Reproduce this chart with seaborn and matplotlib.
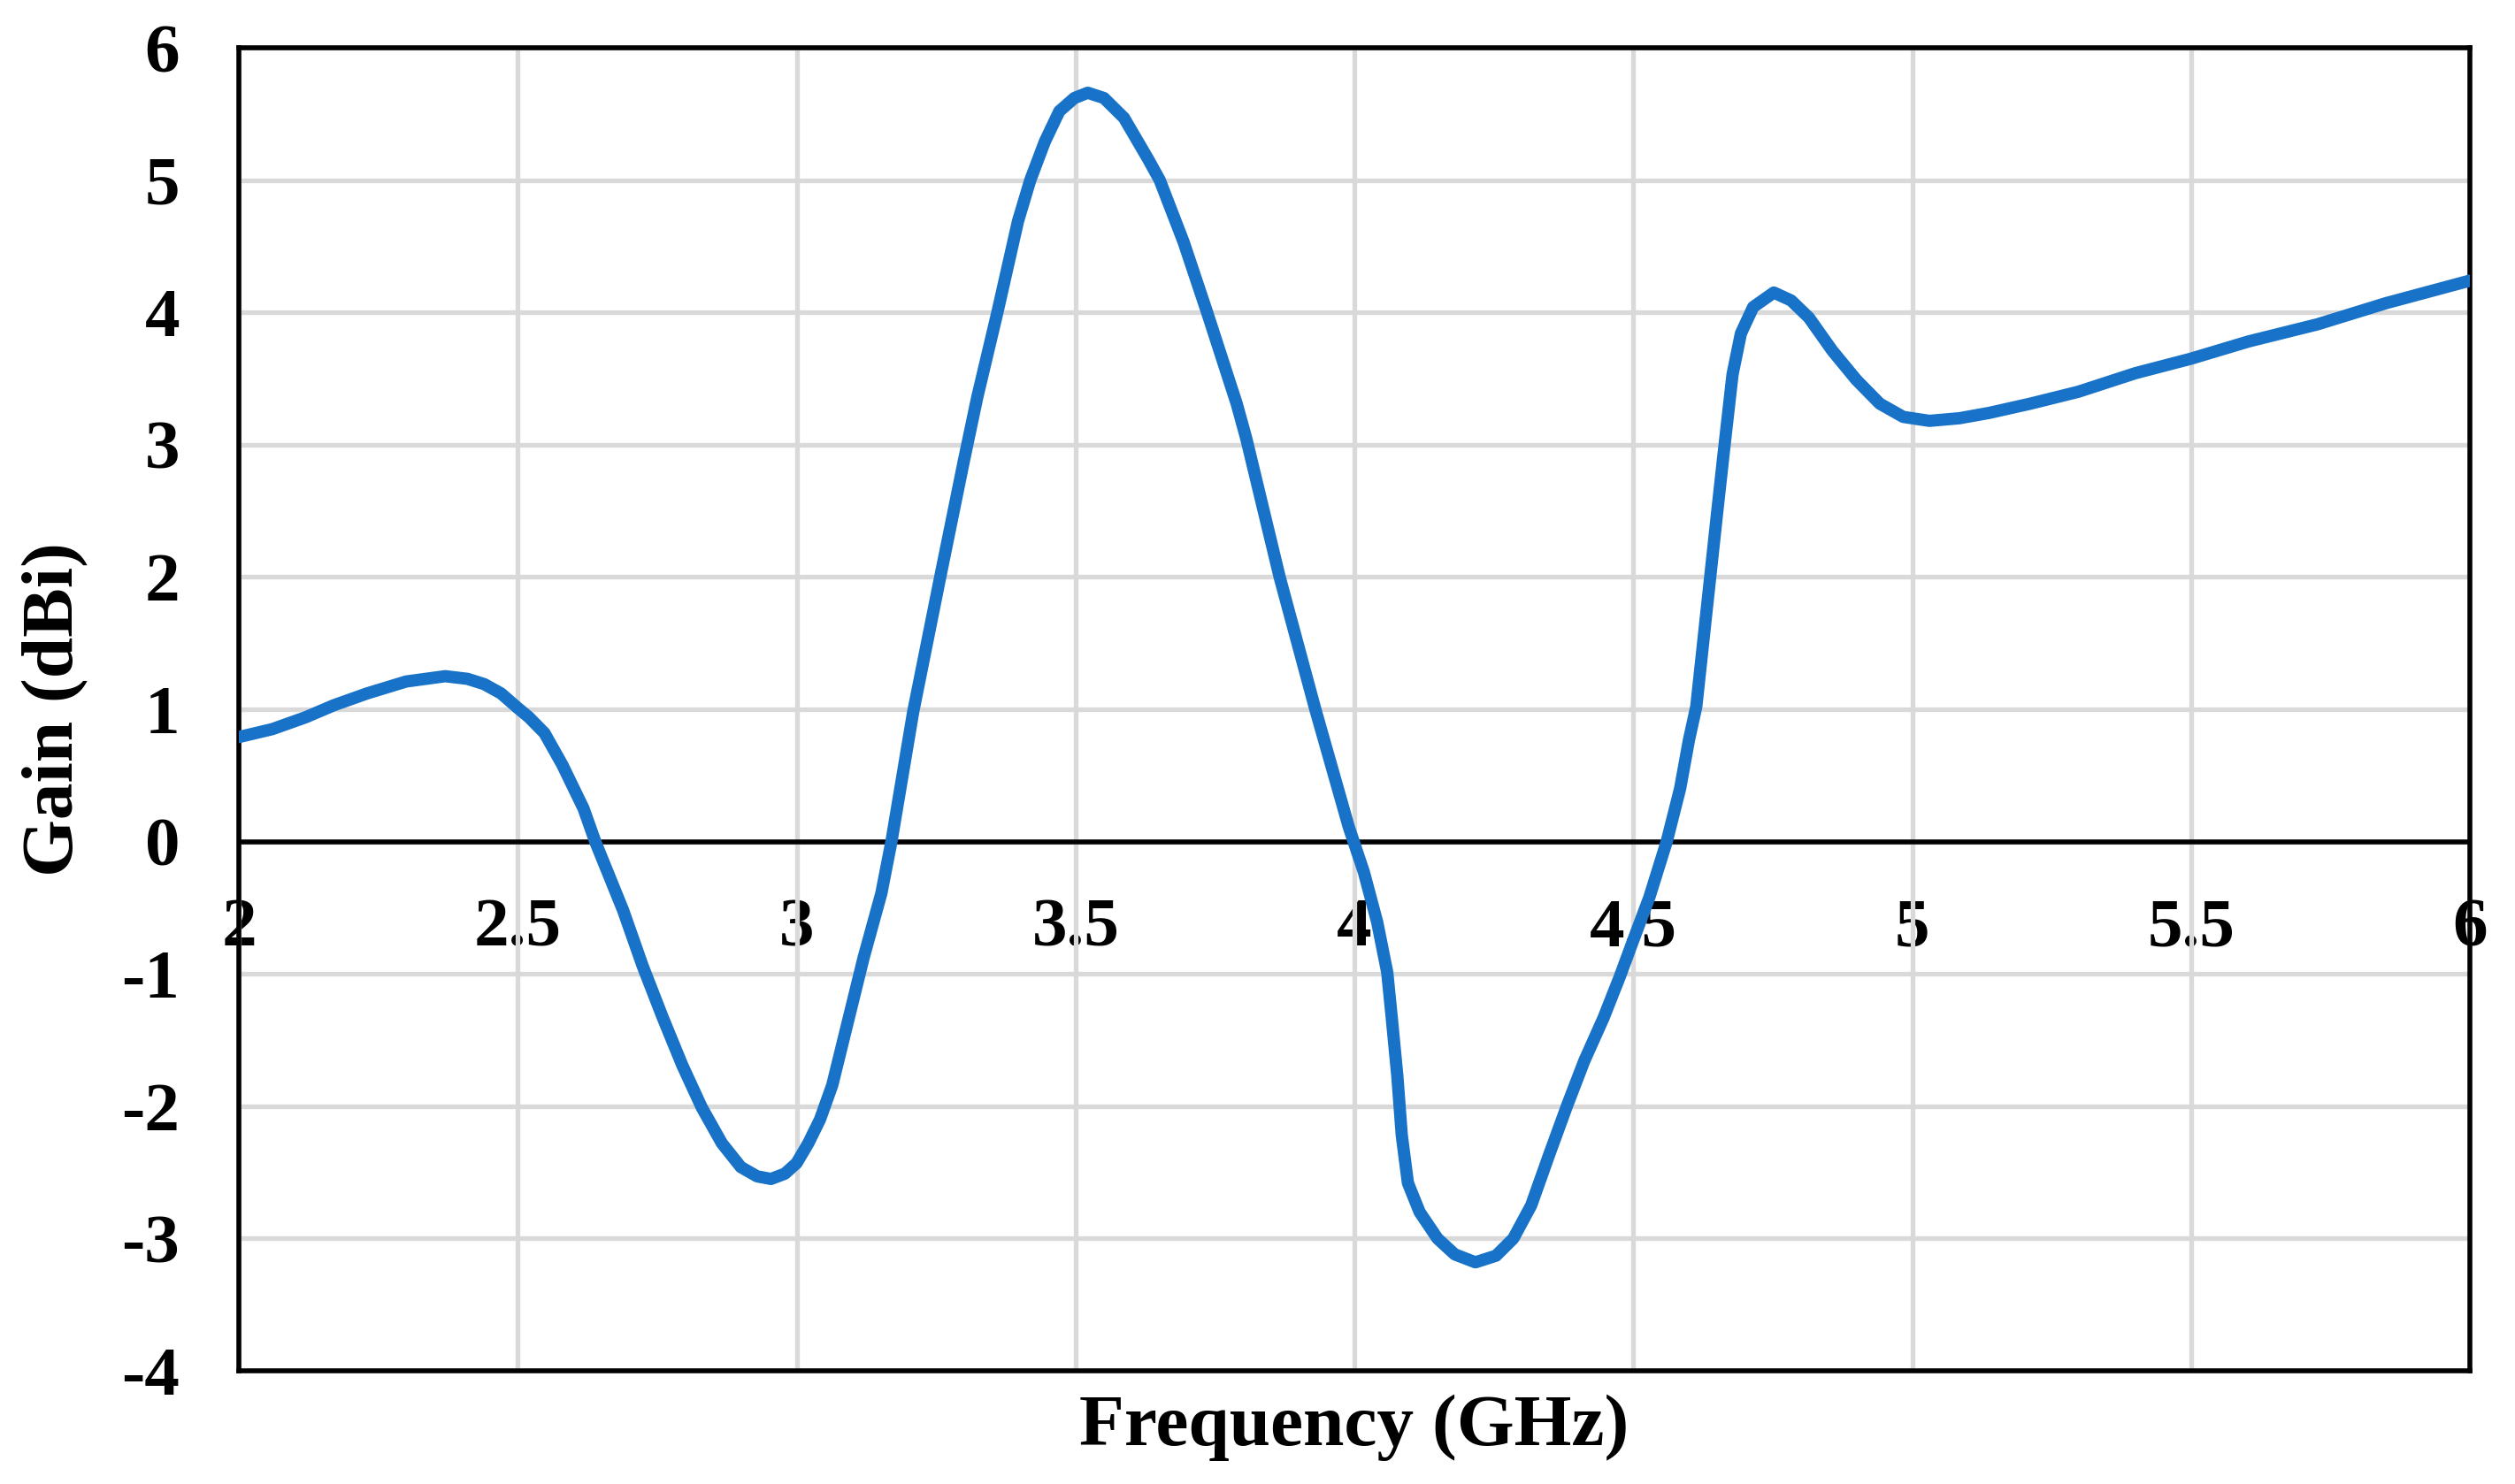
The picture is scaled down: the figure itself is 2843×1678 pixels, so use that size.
import matplotlib
matplotlib.use("Agg")
import matplotlib.pyplot as plt
import seaborn as sns
import pandas as pd

# ---- data ----
freq_ghz = [2.000, 2.060, 2.120, 2.170, 2.230, 2.300, 2.370, 2.410, 2.440, 2.470,
            2.500, 2.520, 2.548, 2.580, 2.618, 2.639, 2.689, 2.724, 2.760, 2.795,
            2.830, 2.866, 2.900, 2.929, 2.954, 2.979, 3.000, 3.021, 3.042, 3.064,
            3.085, 3.120, 3.152, 3.170, 3.209, 3.258, 3.300, 3.324, 3.360, 3.397,
            3.419, 3.445, 3.471, 3.498, 3.522, 3.551, 3.587, 3.630, 3.651, 3.694,
            3.736, 3.789, 3.806, 3.866, 3.930, 3.990, 4.017, 4.041, 4.059, 4.067,
            4.077, 4.085, 4.096, 4.117, 4.149, 4.180, 4.217, 4.254, 4.285, 4.317,
            4.349, 4.381, 4.412, 4.447, 4.476, 4.497, 4.529, 4.560, 4.584, 4.600,
            4.613, 4.638, 4.650, 4.663, 4.678, 4.693, 4.715, 4.752, 4.783, 4.815,
            4.857, 4.900, 4.942, 4.984, 5.031, 5.085, 5.138, 5.212, 5.298, 5.400,
            5.500, 5.603, 5.727, 5.850, 6.000]
gain_dbi = [0.79, 0.85, 0.94, 1.03, 1.12, 1.21, 1.25, 1.23, 1.19, 1.12,
            1.01, 0.94, 0.82, 0.58, 0.25, 0.00, -0.52, -0.94, -1.33, -1.69,
            -2.01, -2.28, -2.46, -2.53, -2.55, -2.51, -2.43, -2.28, -2.10, -1.84,
            -1.48, -0.88, -0.39, 0.00, 0.98, 2.01, 2.88, 3.36, 4.00, 4.69,
            5.00, 5.29, 5.52, 5.62, 5.66, 5.62, 5.47, 5.16, 5.00, 4.53,
            4.00, 3.31, 3.05, 2.00, 1.00, 0.11, -0.23, -0.61, -0.99, -1.33,
            -1.77, -2.22, -2.58, -2.80, -3.00, -3.12, -3.18, -3.13, -3.00, -2.75,
            -2.37, -2.00, -1.66, -1.33, -1.02, -0.78, -0.42, 0.00, 0.40, 0.77,
            1.02, 2.00, 2.47, 2.97, 3.53, 3.84, 4.04, 4.15, 4.09, 3.96,
            3.71, 3.49, 3.31, 3.21, 3.18, 3.20, 3.24, 3.31, 3.40, 3.54,
            3.65, 3.78, 3.91, 4.07, 4.24]

x_ticks = [2, 2.5, 3, 3.5, 4, 4.5, 5, 5.5, 6]
x_tick_labels = ["2", "2.5", "3", "3.5", "4", "4.5", "5", "5.5", "6"]
y_ticks = [-4, -3, -2, -1, 0, 1, 2, 3, 4, 5, 6]
y_tick_labels = ["-4", "-3", "-2", "-1", "0", "1", "2", "3", "4", "5", "6"]

df = pd.DataFrame({"Frequency (GHz)": freq_ghz, "Gain (dBi)": gain_dbi})

sns.set_theme(style="white")
plt.rcParams["font.family"] = ["Liberation Serif", "DejaVu Serif"]
plt.rcParams["font.weight"] = "bold"
plt.rcParams["text.color"] = "black"
plt.rcParams["axes.labelcolor"] = "black"
plt.rcParams["xtick.color"] = "black"
plt.rcParams["ytick.color"] = "black"

DPI = 100
fig = plt.figure(figsize=(2843 / DPI, 1678 / DPI), dpi=DPI)
ax = fig.add_axes([270 / 2843, 1 - 1550 / 1678, (2792 - 270) / 2843, (1550 - 54) / 1678])

grid_color = "#D9D9D9"
ax.set_xlim(2, 6)
ax.set_ylim(-4, 6)
ax.set_xticks(x_ticks)
ax.set_yticks(y_ticks)
ax.set_yticklabels(y_tick_labels, fontsize=57, fontweight="bold", color="black")
ax.tick_params(axis="x", labelbottom=False, length=0)
ax.tick_params(axis="y", length=0, pad=48)
ax.grid(True, color=grid_color, linewidth=3.8, zorder=0)
ax.set_axisbelow(True)

for s in ax.spines.values():
    s.set_color("black")
    s.set_linewidth(4.0)
    s.set_visible(True)

ax.axhline(0, color="black", linewidth=4.0, zorder=1.5)

sns.lineplot(data=df, x="Frequency (GHz)", y="Gain (dBi)", ax=ax, color="#1873C8",
             linewidth=10, sort=False, estimator=None, zorder=3,
             solid_capstyle="round", solid_joinstyle="round")
ax.set_xlabel("")
ax.set_ylabel("")

# x tick labels sit under the zero line
sec = ax.secondary_xaxis((0 - (-4)) / 10)
sec.set_xticks(x_ticks)
sec.set_xticklabels(x_tick_labels, fontsize=57, fontweight="bold", color="black")
sec.tick_params(axis="x", length=0, pad=46)
sec.spines["bottom"].set_visible(False)
sec.spines["top"].set_visible(False)

ax.text(0.5, -0.043, "Frequency (GHz)", transform=ax.transAxes, fontsize=60,
        fontweight="bold", ha="center", va="center", color="black")
ax.text(-0.082, 0.5, "Gain (dBi)", transform=ax.transAxes, fontsize=60,
        fontweight="bold", ha="center", va="center", rotation=90, color="black")

fig.savefig("out.png", dpi=DPI, facecolor="white")
